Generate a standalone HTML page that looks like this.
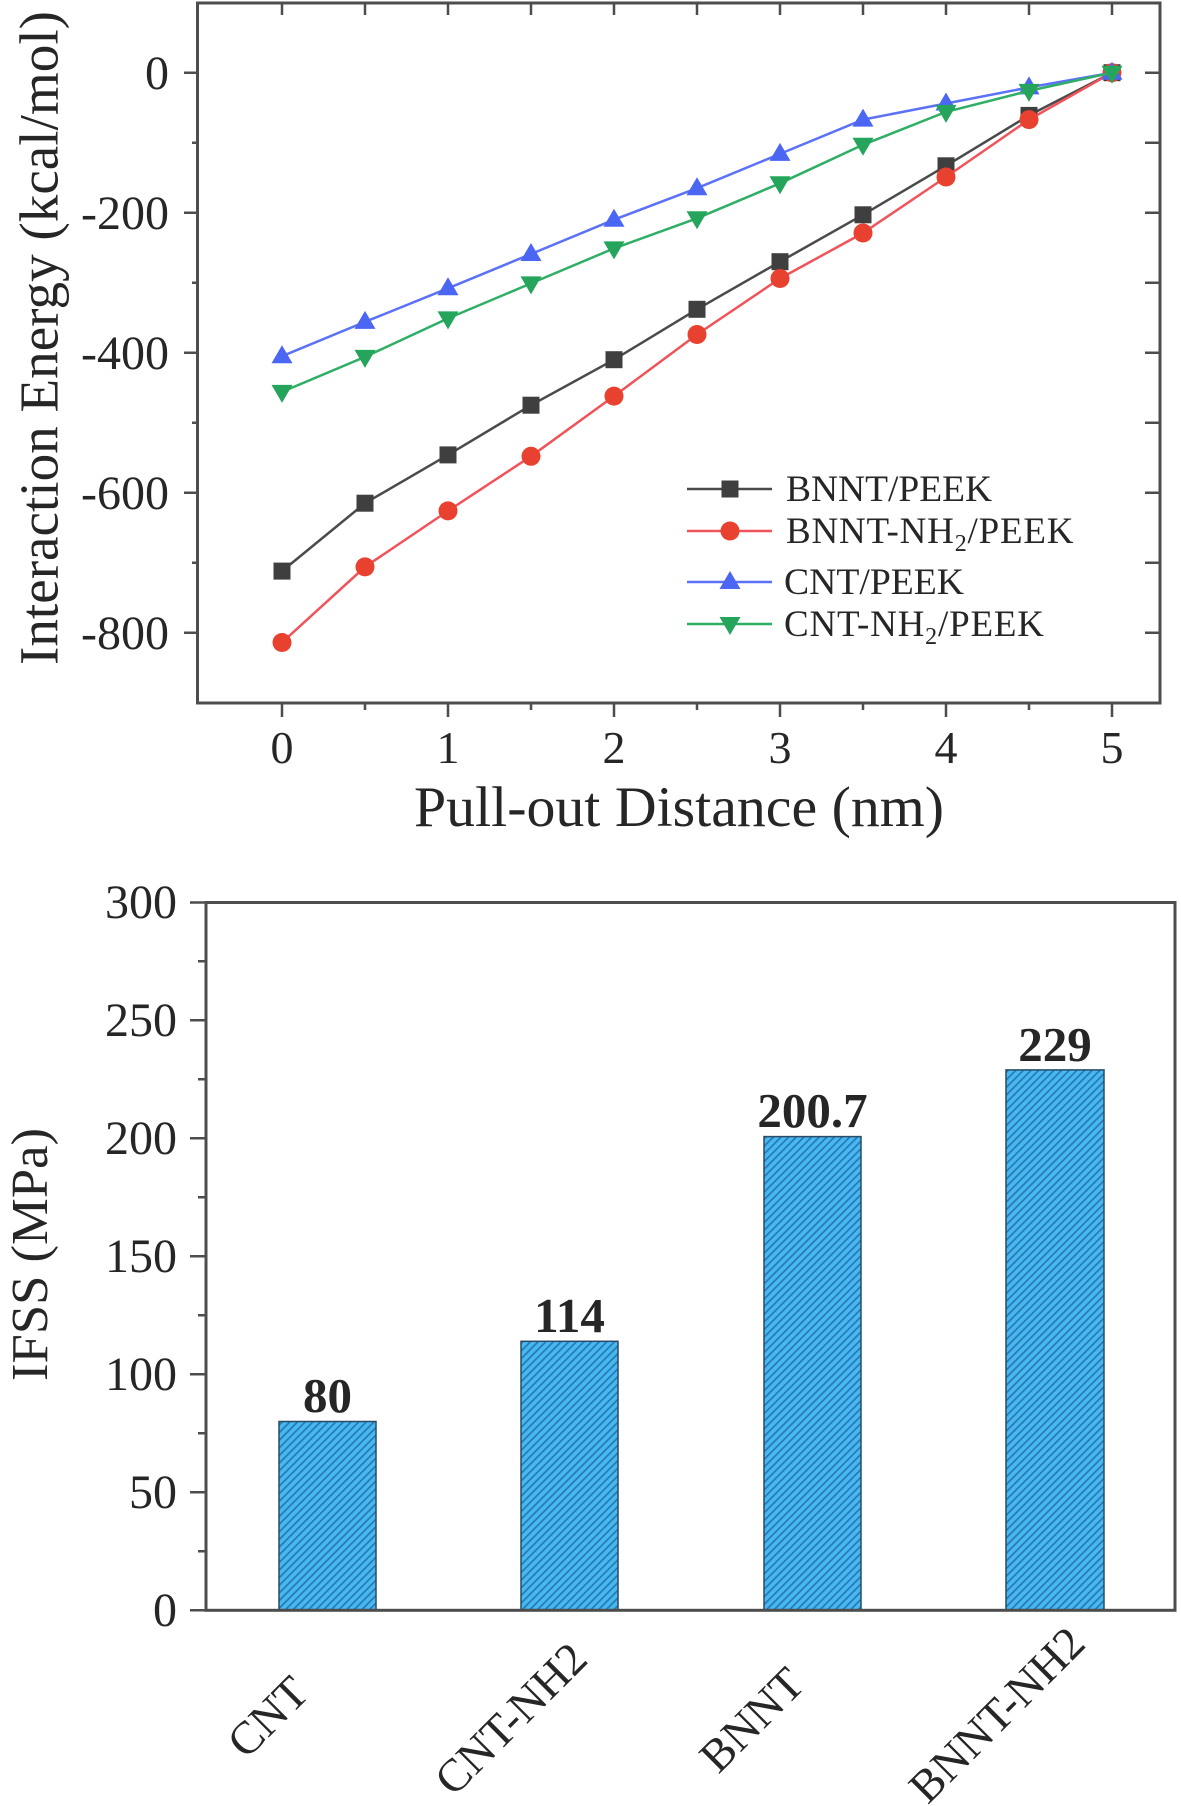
<!DOCTYPE html>
<html><head><meta charset="utf-8">
<style>
html,body{margin:0;padding:0;background:#fff;}
svg{display:block;}
text{font-family:"Liberation Serif",serif;fill:#262626;}
</style></head>
<body>
<svg width="1181" height="1806" viewBox="0 0 1181 1806" xmlns="http://www.w3.org/2000/svg">
<defs>
<pattern id="hatch" patternUnits="userSpaceOnUse" width="5.4" height="5.4" patternTransform="rotate(45)">
<rect width="5.4" height="5.4" fill="#46b8f2"/>
<rect width="1.7" height="5.4" fill="#2a78b0"/>
</pattern>
<marker id="sq" viewBox="-10 -10 20 20" refX="0" refY="0" markerWidth="20" markerHeight="20" markerUnits="userSpaceOnUse"><rect x="-8.5" y="-8.5" width="17" height="17" fill="#3f3f3f"/></marker>
<marker id="ci" viewBox="-10 -10 20 20" refX="0" refY="0" markerWidth="20" markerHeight="20" markerUnits="userSpaceOnUse"><circle r="9.5" fill="#e8412f"/></marker>
<marker id="up" viewBox="-12 -12 24 24" refX="0" refY="0" markerWidth="24" markerHeight="24" markerUnits="userSpaceOnUse"><polygon points="0,-11 10.5,7 -10.5,7" fill="#4a66f2"/></marker>
<marker id="dn" viewBox="-12 -12 24 24" refX="0" refY="0" markerWidth="24" markerHeight="24" markerUnits="userSpaceOnUse"><polygon points="0,11 10.5,-7 -10.5,-7" fill="#25a55c"/></marker>
</defs>
<rect width="1181" height="1806" fill="#fff"/>

<!-- Top chart frame and ticks -->
<rect x="197.5" y="3" width="962.5" height="700" fill="none" stroke="#4d4d4d" stroke-width="3"/>
<path stroke="#4d4d4d" stroke-width="2.5" fill="none" d="M184 72.7h13.5M184 212.7h13.5M184 352.7h13.5M184 492.7h13.5M184 632.7h13.5M192 142.7h5.5M192 282.7h5.5M192 422.7h5.5M192 562.7h5.5M1145 72.7h15M1145 142.7h15M1145 212.7h15M1145 282.7h15M1145 352.7h15M1145 422.7h15M1145 492.7h15M1145 562.7h15M1145 632.7h15M282 703v14M448 703v14M614 703v14M780 703v14M946 703v14M1112 703v14M365 703v7M531 703v7M697 703v7M863 703v7M1029 703v7M282 3v12M365 3v12M448 3v12M531 3v12M614 3v12M697 3v12M780 3v12M863 3v12M946 3v12M1029 3v12M1112 3v12"/>
<g font-size="48" text-anchor="end">
<text x="169" y="89">0</text>
<text x="169" y="229">-200</text>
<text x="169" y="369">-400</text>
<text x="169" y="509">-600</text>
<text x="169" y="649">-800</text>
</g>
<g font-size="46" text-anchor="middle">
<text x="282" y="763">0</text>
<text x="448" y="763">1</text>
<text x="614" y="763">2</text>
<text x="780" y="763">3</text>
<text x="946" y="763">4</text>
<text x="1112" y="763">5</text>
</g>
<text x="679" y="826" font-size="57" text-anchor="middle" textLength="530" lengthAdjust="spacingAndGlyphs">Pull-out Distance (nm)</text>
<text transform="translate(57.5,338) rotate(-90)" font-size="55" text-anchor="middle" textLength="654" lengthAdjust="spacingAndGlyphs">Interaction Energy (kcal/mol)</text>

<!-- Series -->
<polyline fill="none" stroke="#4a4a4a" stroke-width="2.5" marker-start="url(#sq)" marker-mid="url(#sq)" marker-end="url(#sq)" points="282,571.1 365,503.2 448,454.9 531,405.2 614,359.7 697,309.3 780,261.7 863,214.8 946,165.8 1029,115.4 1112,72.7"/>
<polyline fill="none" stroke="#f0545a" stroke-width="2.5" marker-start="url(#ci)" marker-mid="url(#ci)" marker-end="url(#ci)" points="282,642.5 365,566.9 448,510.9 531,456.3 614,396.1 697,334.5 780,278.5 863,233.0 946,177.0 1029,119.6 1112,72.7"/>
<polyline fill="none" stroke="#5b72f7" stroke-width="2.5" marker-start="url(#up)" marker-mid="url(#up)" marker-end="url(#up)" points="282,356.2 365,321.9 448,288.3 531,254.0 614,219.7 697,188.2 780,153.9 863,119.6 946,103.5 1029,87.4 1112,72.7"/>
<polyline fill="none" stroke="#2fae66" stroke-width="2.5" marker-start="url(#dn)" marker-mid="url(#dn)" marker-end="url(#dn)" points="282,391.9 365,356.9 448,318.4 531,283.4 614,248.4 697,218.3 780,183.3 863,144.8 946,111.9 1029,90.9 1112,72.7"/>

<!-- Legend -->
<polyline fill="none" stroke="#4a4a4a" stroke-width="2.5" marker-mid="url(#sq)" points="687,489 730,489 772,489"/>
<polyline fill="none" stroke="#f0545a" stroke-width="2.5" marker-mid="url(#ci)" points="687,531 730,531 772,531"/>
<polyline fill="none" stroke="#5b72f7" stroke-width="2.5" marker-mid="url(#up)" points="687,582 730,582 772,582"/>
<polyline fill="none" stroke="#2fae66" stroke-width="2.5" marker-mid="url(#dn)" points="687,624 730,624 772,624"/>
<g font-size="37">
<text x="786" y="501" textLength="206" lengthAdjust="spacingAndGlyphs">BNNT/PEEK</text>
<text x="786" y="543" letter-spacing="0.8">BNNT-NH<tspan font-size="24" dy="8">2</tspan><tspan dy="-8">/PEEK</tspan></text>
<text x="784" y="594" textLength="180" lengthAdjust="spacingAndGlyphs">CNT/PEEK</text>
<text x="784" y="636" letter-spacing="0.8">CNT-NH<tspan font-size="24" dy="8">2</tspan><tspan dy="-8">/PEEK</tspan></text>
</g>

<!-- Bottom chart -->
<g fill="url(#hatch)" stroke="#2a4b63" stroke-width="1.5">
<rect x="279" y="1421.5" width="97" height="188.8"/>
<rect x="521" y="1341.3" width="97" height="269"/>
<rect x="764" y="1136.6" width="97" height="473.7"/>
<rect x="1006" y="1069.9" width="98" height="540.4"/>
</g>
<rect x="206" y="902.5" width="969" height="707.8" fill="none" stroke="#4d4d4d" stroke-width="3"/>
<path stroke="#4d4d4d" stroke-width="2.5" fill="none" d="M190 1610.3h16M190 1492.3h16M190 1374.3h16M190 1256.3h16M190 1138.3h16M190 1020.3h16M190 902.5h16M198 1551.3h8M198 1433.3h8M198 1315.3h8M198 1197.3h8M198 1079.3h8M198 961.3h8"/>
<g font-size="48" text-anchor="end">
<text x="177" y="1626">0</text>
<text x="177" y="1508">50</text>
<text x="177" y="1390">100</text>
<text x="177" y="1272">150</text>
<text x="177" y="1154">200</text>
<text x="177" y="1036">250</text>
<text x="177" y="918">300</text>
</g>
<text transform="translate(47,1254.5) rotate(-90)" font-size="52" text-anchor="middle" textLength="253" lengthAdjust="spacingAndGlyphs">IFSS (MPa)</text>
<g font-size="49" font-weight="bold" text-anchor="middle" style="fill:#111">
<text x="327.5" y="1412">80</text>
<text x="569.5" y="1332">114</text>
<text x="812.5" y="1127">200.7</text>
<text x="1055" y="1061">229</text>
</g>
<g font-size="46" text-anchor="middle">
<text transform="translate(268,1717) rotate(-45)" y="15">CNT</text>
<text transform="translate(511,1719) rotate(-45)" y="15">CNT-NH2</text>
<text transform="translate(752,1720) rotate(-45)" y="15">BNNT</text>
<text transform="translate(997,1715) rotate(-45)" y="15">BNNT-NH2</text>
</g>
</svg>
</body></html>
